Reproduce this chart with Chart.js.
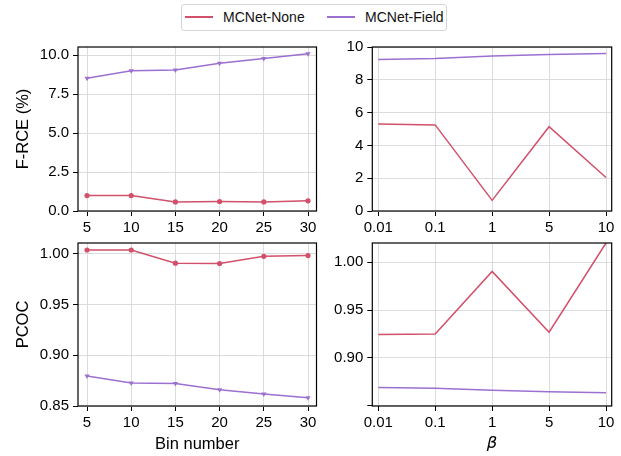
<!DOCTYPE html>
<html>
<head>
<meta charset="utf-8">
<script src="https://cdn.jsdelivr.net/npm/chart.js@4/dist/chart.umd.min.js"></script>
<style>
html, body { margin: 0; padding: 0; background: #fff; }
#wrap { position: relative; width: 621px; height: 456px; overflow: hidden; background: #fff; }
#wrap canvas { position: absolute; left: 0; top: 0; }
#legend { position: absolute; left: 181px; top: 4px; width: 266px; height: 27px; box-sizing: border-box;
  border: 1px solid #d5d5d5; border-radius: 3px; background: #fff;
  font-family: 'Liberation Sans', Arial, Helvetica, sans-serif; font-size: 14px; color: #111; }
#legend .ln { position: absolute; top: 11px; width: 28px; height: 2px; }
#legend .tx { position: absolute; top: 4px; line-height: 16px; white-space: nowrap; }
</style>
</head>
<body>
<div id="wrap">
  <canvas id="c1" width="621" height="456"></canvas>
  <canvas id="c2" width="621" height="456"></canvas>
  <canvas id="c3" width="621" height="456"></canvas>
  <canvas id="c4" width="621" height="456"></canvas>
  <div id="legend">
    <div class="ln" id="l1" style="left:3px"></div><div class="tx" id="t1" style="left:41px"></div>
    <div class="ln" id="l2" style="left:145px"></div><div class="tx" id="t2" style="left:183px"></div>
  </div>
</div>
<script>
// ---- data ----
const seriesNames = ['MCNet-None', 'MCNet-Field'];
const binNumbers = [5, 10, 15, 20, 25, 30];
const betaLabels = ['0.01', '0.1', '1', '5', '10'];

const frceNoneBin  = [0.99, 0.99, 0.58, 0.61, 0.58, 0.65];
const frceFieldBin = [8.52, 9.00, 9.05, 9.48, 9.78, 10.08];
const frceNoneBeta  = [5.31, 5.25, 0.65, 5.14, 2.04];
const frceFieldBeta = [9.24, 9.30, 9.45, 9.55, 9.61];

const pcocNoneBin  = [1.0039, 1.0039, 0.9909, 0.9906, 0.9977, 0.9984];
const pcocFieldBin = [0.8797, 0.8728, 0.8722, 0.8660, 0.8618, 0.8581];
const pcocNoneBeta  = [0.9244, 0.9251, 0.9903, 0.9269, 1.0200];
const pcocFieldBeta = [0.8690, 0.8683, 0.8662, 0.8647, 0.8637];

const frceBinTicks = [0, 2.5, 5, 7.5, 10];
const frceBetaTicks = [0, 2, 4, 6, 8, 10];
const pcocTicks = [0.85, 0.90, 0.95, 1.00];

// ---- style ----
const W = 621, H = 456;
const RED = '#d1506a', PURPLE = '#9c70d0';
const FONT = "'Liberation Sans', Arial, Helvetica, sans-serif";
const TICK_SIZE = 15, TITLE_SIZE = 16.5;

document.getElementById('l1').style.background = RED;
document.getElementById('l2').style.background = PURPLE;
document.getElementById('t1').textContent = seriesNames[0];
document.getElementById('t2').textContent = seriesNames[1];

const boxPlugin = {
  id: 'box',
  afterDraw(chart) {
    const { ctx, chartArea: a } = chart;
    ctx.save();
    ctx.strokeStyle = '#000';
    ctx.lineWidth = 1.2;
    ctx.strokeRect(a.left, a.top, a.right - a.left, a.bottom - a.top);
    ctx.restore();
  }
};

function ds(label, xs, ys, color, style, r) {
  return {
    label,
    data: xs.map((x, i) => ({ x: x, y: ys[i] })),
    borderColor: color, backgroundColor: color,
    borderWidth: 1.5, tension: 0,
    pointRadius: r, pointStyle: style, pointRotation: style === 'triangle' ? 180 : 0,
    pointBorderWidth: 0, pointHoverRadius: r
  };
}

function panel(id, area, o) {
  const WY = 64, HX = 48;
  const gridCfg = { color: '#dcdcdc', lineWidth: 1, drawTicks: true, tickLength: 5, tickColor: '#000', tickWidth: 1 };
  new Chart(document.getElementById(id), {
    type: 'line',
    data: { datasets: o.datasets },
    options: {
      responsive: false, animation: false, devicePixelRatio: 1,
      layout: { padding: { left: area.l - WY, top: area.t, right: W - area.r, bottom: H - area.b - HX } },
      plugins: { legend: { display: false }, tooltip: { enabled: false } },
      scales: {
        x: {
          type: 'linear', min: o.xmin, max: o.xmax, bounds: 'data',
          afterBuildTicks: s => { s.ticks = o.xTicks.map(v => ({ value: v })); },
          afterFit: s => { s.height = HX; },
          ticks: { callback: o.xLabel, font: { family: FONT, size: TICK_SIZE }, color: '#000', padding: 3, maxRotation: 0, autoSkip: false },
          grid: gridCfg,
          border: { display: false },
          title: o.xTitle ? { display: true, text: o.xTitle, color: '#000', padding: 0, font: o.xTitleFont } : { display: false }
        },
        y: {
          type: 'linear', min: o.ymin, max: o.ymax, bounds: 'data',
          afterBuildTicks: s => { s.ticks = o.yTicks.map(v => ({ value: v })); },
          afterFit: s => { s.width = WY; },
          ticks: { callback: o.yLabel, font: { family: FONT, size: TICK_SIZE }, color: '#000', padding: 4, autoSkip: false },
          grid: gridCfg,
          border: { display: false },
          title: o.yTitle ? { display: true, text: o.yTitle, color: '#000', padding: 0, font: { family: FONT, size: TITLE_SIZE } } : { display: false }
        }
      }
    },
    plugins: [boxPlugin]
  });
}

const betaIdx = betaLabels.map((_, i) => i);
const titleFont = { family: FONT, size: TITLE_SIZE };
const betaFont = { family: "'DejaVu Sans', sans-serif", size: TITLE_SIZE, style: 'italic' };

// Top-left: F-RCE vs bin number
panel('c1', { l: 78, t: 47, r: 316.5, b: 211 }, {
  datasets: [
    ds(seriesNames[0], binNumbers, frceNoneBin, RED, 'circle', 2.6),
    ds(seriesNames[1], binNumbers, frceFieldBin, PURPLE, 'triangle', 3)
  ],
  xmin: 3.98, xmax: 30.96, xTicks: binNumbers, xLabel: v => String(v),
  ymin: 0, ymax: 10.52, yTicks: frceBinTicks, yLabel: v => v.toFixed(1),
  yTitle: 'F-RCE (%)'
});

// Top-right: F-RCE vs beta
panel('c2', { l: 372.3, t: 47, r: 611.7, b: 211 }, {
  datasets: [
    ds(seriesNames[0], betaIdx, frceNoneBeta, RED, 'circle', 0),
    ds(seriesNames[1], betaIdx, frceFieldBeta, PURPLE, 'circle', 0)
  ],
  xmin: -0.105, xmax: 4.1, xTicks: betaIdx, xLabel: v => betaLabels[v],
  ymin: 0, ymax: 10, yTicks: frceBetaTicks, yLabel: v => String(v)
});

// Bottom-left: PCOC vs bin number
panel('c3', { l: 78, t: 243, r: 316.5, b: 406 }, {
  datasets: [
    ds(seriesNames[0], binNumbers, pcocNoneBin, RED, 'circle', 2.6),
    ds(seriesNames[1], binNumbers, pcocFieldBin, PURPLE, 'triangle', 3)
  ],
  xmin: 3.98, xmax: 30.96, xTicks: binNumbers, xLabel: v => String(v),
  ymin: 0.85, ymax: 1.0108, yTicks: pcocTicks, yLabel: v => v.toFixed(2),
  yTitle: 'PCOC', xTitle: 'Bin number', xTitleFont: titleFont
});

// Bottom-right: PCOC vs beta
panel('c4', { l: 372.3, t: 243, r: 611.7, b: 406 }, {
  datasets: [
    ds(seriesNames[0], betaIdx, pcocNoneBeta, RED, 'circle', 0),
    ds(seriesNames[1], betaIdx, pcocFieldBeta, PURPLE, 'circle', 0)
  ],
  xmin: -0.105, xmax: 4.1, xTicks: betaIdx, xLabel: v => betaLabels[v],
  ymin: 0.8498, ymax: 1.02, yTicks: pcocTicks, yLabel: (v, i) => (i === 0 ? '' : v.toFixed(2)),
  xTitle: 'β', xTitleFont: betaFont
});
</script>
</body>
</html>
